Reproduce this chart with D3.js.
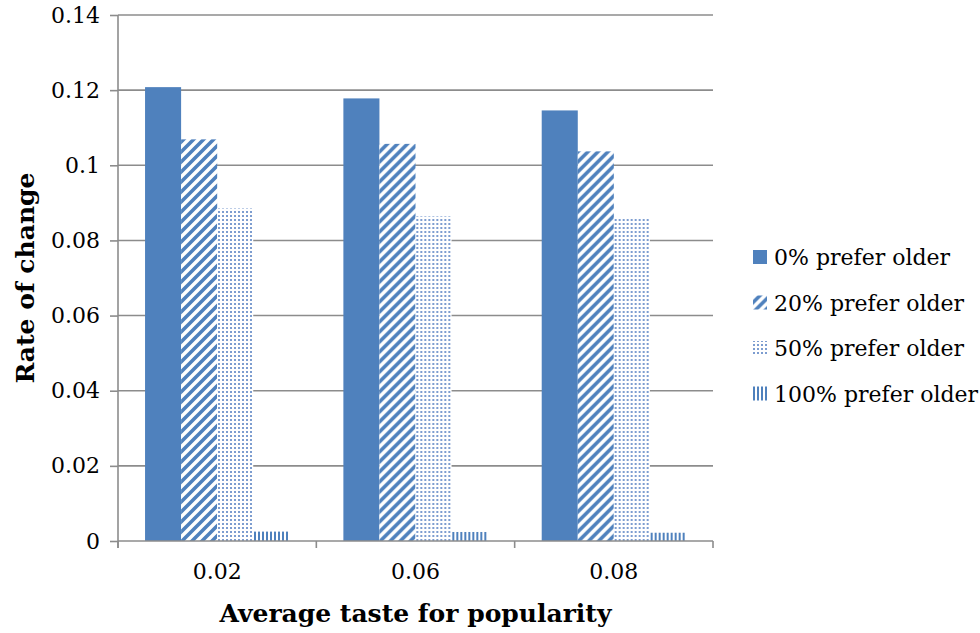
<!DOCTYPE html>
<html>
<head>
<meta charset="utf-8">
<script src="https://cdn.jsdelivr.net/npm/d3@7"></script>
<style>
  html, body { margin: 0; padding: 0; background: #fff; }
  svg { display: block; }
  text { font-family: "DejaVu Serif", "Liberation Serif", serif; fill: #000; }
</style>
</head>
<body>
<svg id="chart" width="980" height="633"></svg>
<script>
// Data
const categories = ["0.02", "0.06", "0.08"];
const seriesNames = ["0% prefer older", "20% prefer older", "50% prefer older", "100% prefer older"];
const pref0   = [0.1208, 0.1178, 0.1146];
const pref20  = [0.1069, 0.1057, 0.1037];
const pref50  = [0.0885, 0.0864, 0.0862];
const pref100 = [0.0025, 0.0024, 0.0022];
const yTicks  = [0, 0.02, 0.04, 0.06, 0.08, 0.1, 0.12, 0.14];

const seriesValues = [pref0, pref20, pref50, pref100];
const blue = "#4f81bd";

const svg = d3.select("#chart");
const margin = { left: 118, right: 267, top: 15, bottom: 92 };
const W = 980, H = 633;
const plotW = W - margin.left - margin.right;
const plotH = H - margin.top - margin.bottom;

// Fill patterns for each series
const defs = svg.append("defs");
const diag = defs.append("pattern").attr("id", "pat-diag")
  .attr("patternUnits", "userSpaceOnUse").attr("width", 10).attr("height", 10);
diag.append("rect").attr("width", 10).attr("height", 10).attr("fill", "#fff");
diag.append("path").attr("d", "M-2.5,2.5 l5,-5 M0,10 l10,-10 M7.5,12.5 l5,-5")
  .attr("stroke", blue).attr("stroke-width", 3.6);

const dots = defs.append("pattern").attr("id", "pat-dots")
  .attr("patternUnits", "userSpaceOnUse").attr("width", 4).attr("height", 4);
dots.append("rect").attr("width", 4).attr("height", 4).attr("fill", "#fff");
dots.append("rect").attr("width", 2).attr("height", 2).attr("fill", "#7d9dd0");

const vlines = defs.append("pattern").attr("id", "pat-vlines")
  .attr("patternUnits", "userSpaceOnUse").attr("width", 4).attr("height", 4);
vlines.append("rect").attr("width", 4).attr("height", 4).attr("fill", "#fff");
vlines.append("rect").attr("width", 2).attr("height", 4).attr("fill", blue);

const fills = [blue, "url(#pat-diag)", "url(#pat-dots)", "url(#pat-vlines)"];

// Scales
const x0 = d3.scaleBand().domain(categories).range([0, plotW]).paddingInner(0).paddingOuter(0);
const x1 = d3.scaleBand().domain(d3.range(seriesNames.length))
  .range([0, x0.bandwidth()]).paddingOuter(0.75).paddingInner(0);
const y = d3.scaleLinear().domain([0, 0.14]).range([plotH, 0]);

const g = svg.append("g").attr("transform", `translate(${margin.left},${margin.top})`);

// Gridlines
g.append("g").selectAll("line").data(yTicks.slice(1)).join("line")
  .attr("x1", 0).attr("x2", plotW)
  .attr("y1", d => y(d)).attr("y2", d => y(d))
  .attr("stroke", "#8c8c8c").attr("stroke-width", 1.6);

// Bars
const groups = g.append("g").selectAll("g").data(categories).join("g")
  .attr("transform", d => `translate(${x0(d)},0)`);
groups.selectAll("rect")
  .data((c, ci) => seriesValues.map((vals, si) => ({ si, v: vals[ci] })))
  .join("rect")
  .attr("x", d => x1(d.si))
  .attr("width", x1.bandwidth())
  .attr("y", d => y(d.v))
  .attr("height", d => y(0) - y(d.v))
  .attr("fill", d => fills[d.si]);

// Y axis
const yAxis = g.append("g")
  .call(d3.axisLeft(y).tickValues(yTicks).tickFormat(d3.format("")).tickSize(8).tickPadding(10));
yAxis.select(".domain").attr("stroke", "#8c8c8c").attr("stroke-width", 1.6).attr("d", `M0,${plotH + 7}V0`);
yAxis.selectAll(".tick line").attr("stroke", "#8c8c8c").attr("stroke-width", 1.6);
yAxis.selectAll(".tick text").style("font-size", "22px")
  .style("font-family", "'DejaVu Serif', serif").attr("fill", "#000");

// X axis
const xAxis = g.append("g").attr("transform", `translate(0,${plotH})`)
  .call(d3.axisBottom(x0).tickSize(0).tickPadding(22));
xAxis.select(".domain").attr("stroke", "#8c8c8c").attr("stroke-width", 1.6).attr("d", `M0,0H${plotW}`);
xAxis.selectAll(".tick text").style("font-size", "22px")
  .style("font-family", "'DejaVu Serif', serif").attr("fill", "#000");
g.append("g").selectAll("line").data(d3.range(categories.length + 1)).join("line")
  .attr("x1", i => i * x0.step()).attr("x2", i => i * x0.step())
  .attr("y1", plotH).attr("y2", plotH + 7)
  .attr("stroke", "#8c8c8c").attr("stroke-width", 1.6);

// Axis titles
svg.append("text")
  .attr("x", margin.left + plotW / 2).attr("y", 622)
  .attr("text-anchor", "middle")
  .style("font-size", "25px").style("font-weight", "bold")
  .text("Average taste for popularity");
svg.append("text")
  .attr("transform", `translate(34,${margin.top + plotH / 2}) rotate(-90)`)
  .attr("text-anchor", "middle")
  .style("font-size", "25px").style("font-weight", "bold")
  .text("Rate of change");

// Legend
const legend = svg.append("g").attr("transform", "translate(753,257)");
const items = legend.selectAll("g").data(seriesNames).join("g")
  .attr("transform", (d, i) => `translate(0,${i * 45.5})`);
items.append("rect").attr("x", 0).attr("y", -7).attr("width", 14).attr("height", 14)
  .attr("fill", (d, i) => fills[i]);
items.append("text").attr("x", 21).attr("y", 8)
  .style("font-size", "22px").text(d => d);
</script>
</body>
</html>
